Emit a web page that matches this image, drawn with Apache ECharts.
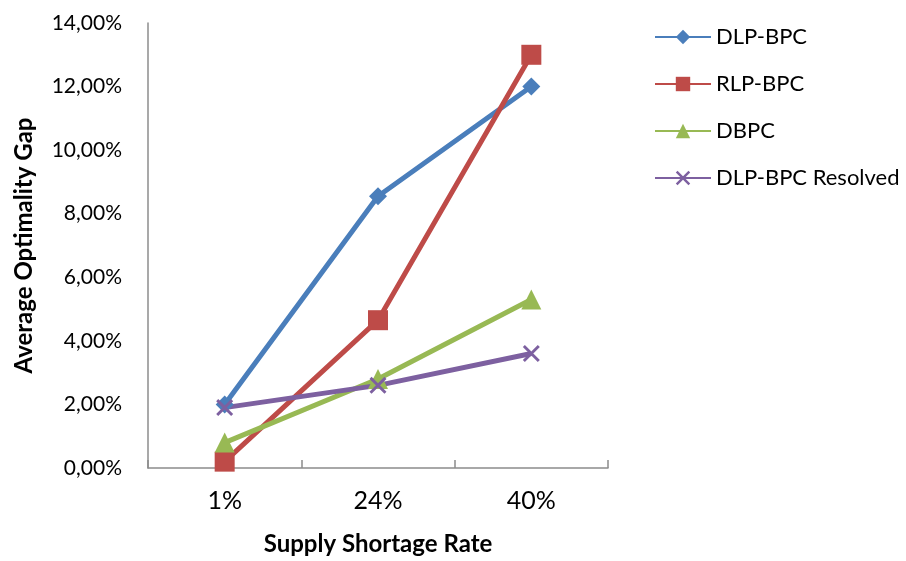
<!DOCTYPE html>
<html>
<head>
<meta charset="utf-8">
<script src="https://cdn.jsdelivr.net/npm/echarts@6/dist/echarts.min.js"></script>
<style>
  html, body { margin: 0; padding: 0; background: #fff; }
  #chart { width: 906px; height: 561px; }
</style>
</head>
<body>
<div id="chart"></div>
<script>
// Supply shortage rates (x categories)
const categories = ['1%', '24%', '40%'];

// Average optimality gap, in percent
const dlpBpc = [2.0, 8.55, 12.0];
const rlpBpc = [0.2, 4.65, 13.0];
const dbpc = [0.8, 2.8, 5.3];
const dlpBpcResolved = [1.9, 2.6, 3.6];

const seriesNames = ['DLP-BPC', 'RLP-BPC', 'DBPC', 'DLP-BPC Resolved'];

const FONT = 'Lato, "Open Sans", sans-serif';
const crossPath = 'path://M0,1.2 L1.2,0 L10,8.8 L8.8,10 Z M8.8,0 L10,1.2 L1.2,10 L0,8.8 Z';

function makeSeries(name, data, color, symbol, size) {
  return {
    name: name,
    type: 'line',
    data: data,
    symbol: symbol,
    symbolSize: size,
    showAllSymbol: true,
    lineStyle: { color: color, width: 5 },
    itemStyle: { color: color },
    emphasis: { disabled: true },
    animation: false
  };
}

const chart = echarts.init(document.getElementById('chart'), null, { renderer: 'canvas' });

chart.setOption({
  backgroundColor: '#ffffff',
  animation: false,
  grid: { left: 148, right: 298, top: 23, bottom: 90, containLabel: false },
  legend: {
    orient: 'vertical',
    left: 649,
    top: 21,
    itemWidth: 56,
    itemHeight: 18,
    itemGap: 25,
    textStyle: { fontFamily: FONT, fontSize: 22, color: '#000' },
    data: seriesNames
  },
  xAxis: {
    type: 'category',
    data: categories,
    boundaryGap: true,
    name: 'Supply Shortage Rate',
    nameLocation: 'middle',
    nameGap: 64,
    nameTextStyle: { fontFamily: FONT, fontSize: 24, fontWeight: 'bold', color: '#000' },
    axisLine: { lineStyle: { color: '#8c8c8c', width: 1.5 } },
    axisTick: { show: true, inside: true, length: 8, lineStyle: { color: '#8c8c8c', width: 1.5 } },
    axisLabel: { fontFamily: FONT, fontSize: 25, color: '#000', margin: 20 },
    splitLine: { show: false }
  },
  yAxis: {
    type: 'value',
    min: 0,
    max: 14,
    interval: 2,
    name: 'Average Optimality Gap',
    nameLocation: 'middle',
    nameGap: 112,
    nameRotate: 90,
    nameTextStyle: { fontFamily: FONT, fontSize: 24, fontWeight: 'bold', color: '#000' },
    axisLine: { show: true, lineStyle: { color: '#8c8c8c', width: 1.5 } },
    axisTick: { show: false },
    axisLabel: {
      fontFamily: FONT,
      fontSize: 21,
      color: '#000',
      margin: 26,
      formatter: v => v.toFixed(2).replace('.', ',') + '%'
    },
    splitLine: { show: false }
  },
  series: [
    makeSeries(seriesNames[0], dlpBpc, '#4a7ebb', 'diamond', 18),
    makeSeries(seriesNames[1], rlpBpc, '#be4b48', 'rect', 20),
    makeSeries(seriesNames[2], dbpc, '#98b954', 'triangle', 20),
    makeSeries(seriesNames[3], dlpBpcResolved, '#7d60a0', crossPath, 17)
  ]
});
</script>
</body>
</html>
